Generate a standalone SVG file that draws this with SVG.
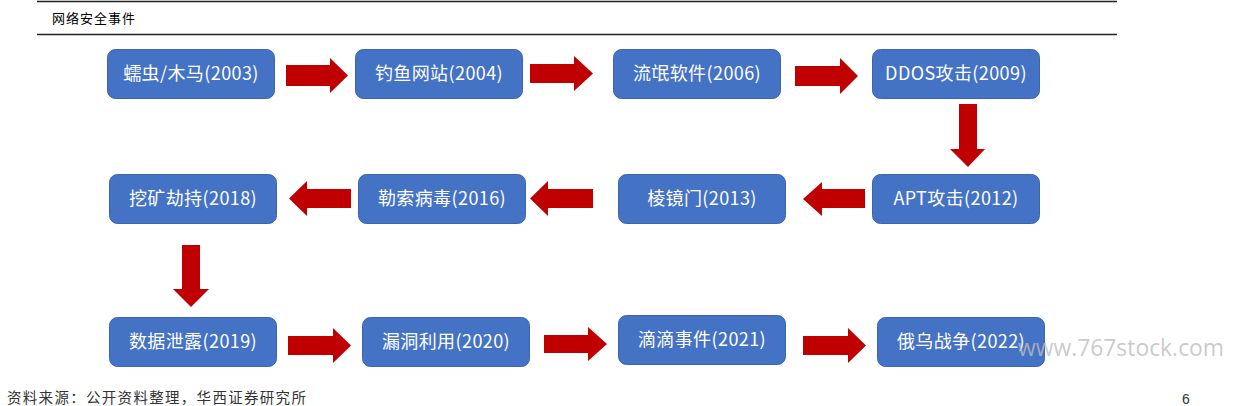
<svg xmlns="http://www.w3.org/2000/svg" width="1235" height="406" viewBox="0 0 1235 406">
<style>
.node rect{fill:#4472C4;stroke:#3B64AD;stroke-width:1}
.node text{font-family:"Noto Sans CJK SC","Noto Sans",sans-serif;font-size:18px;letter-spacing:0.4px;fill:#FFFFFF;text-anchor:middle}
.arrow{fill:#C00000}
.hdr{font-family:"Noto Sans CJK SC",sans-serif;font-size:13px;fill:#000}
.foot{font-family:"Noto Sans CJK SC",sans-serif;font-size:14.5px;fill:#333}
</style>
<rect width="1235" height="406" fill="#FFFFFF"/>
<line x1="37" y1="1.5" x2="1117" y2="1.5" stroke="#222" stroke-width="1.5"/>
<line x1="37" y1="34.5" x2="1117" y2="34.5" stroke="#222" stroke-width="1.5"/>
<text class="hdr" x="52" y="23" letter-spacing="1">网络安全事件</text>

<g id="connectors">
<path class="arrow" d="M286,65 H330 V58 L348,75.5 L330,93 V86 H286 Z"/>
<path class="arrow" d="M530,64 H574 V56 L593,73.5 L574,91 V83 H530 Z"/>
<path class="arrow" d="M795,66 H840 V58 L858,76 L840,94 V86 H795 Z"/>
<path class="arrow" d="M959,104 H977 V149 H985 L968,167 L950,149 H959 Z"/>
<path class="arrow" d="M865,189 H822 V182 L803,199 L822,216 V208 H865 Z"/>
<path class="arrow" d="M593,189 H548 V181 L530,198.5 L548,216 V208 H593 Z"/>
<path class="arrow" d="M351,189 H307 V181 L289,198.5 L307,216 V208 H351 Z"/>
<path class="arrow" d="M182,245 H200 V289 H209 L191,307 L173,289 H182 Z"/>
<path class="arrow" d="M288,336 H333 V328 L351,345.5 L333,363 V355 H288 Z"/>
<path class="arrow" d="M544,335 H588 V327 L607,344 L588,361 V353 H544 Z"/>
<path class="arrow" d="M803,336 H848 V328 L866,345.5 L848,363 V355 H803 Z"/>
</g>

<g id="n2003" class="node"><rect x="107.5" y="49.5" width="167" height="49" rx="8"/><text x="191" y="80">蠕虫/木马(2003)</text></g>
<g id="n2004" class="node"><rect x="355.5" y="49.5" width="167" height="49" rx="8"/><text x="439" y="80">钓鱼网站(2004)</text></g>
<g id="n2006" class="node"><rect x="613.5" y="49.5" width="167" height="49" rx="8"/><text x="697" y="80">流氓软件(2006)</text></g>
<g id="n2009" class="node"><rect x="872.5" y="49.5" width="167" height="49" rx="8"/><text x="956" y="80">DDOS攻击(2009)</text></g>

<g id="n2012" class="node"><rect x="872.5" y="174.5" width="167" height="49" rx="8"/><text x="956" y="205">APT攻击(2012)</text></g>
<g id="n2013" class="node"><rect x="618.5" y="174.5" width="167" height="49" rx="8"/><text x="702" y="205">棱镜门(2013)</text></g>
<g id="n2016" class="node"><rect x="358.5" y="174.5" width="167" height="49" rx="8"/><text x="442" y="205">勒索病毒(2016)</text></g>
<g id="n2018" class="node"><rect x="109.5" y="174.5" width="167" height="49" rx="8"/><text x="193" y="205">挖矿劫持(2018)</text></g>

<g id="n2019" class="node"><rect x="109.5" y="317.5" width="167" height="49" rx="8"/><text x="193" y="348">数据泄露(2019)</text></g>
<g id="n2020" class="node"><rect x="362.5" y="317.5" width="167" height="49" rx="8"/><text x="446" y="348">漏洞利用(2020)</text></g>
<g id="n2021" class="node"><rect x="618.5" y="315.5" width="167" height="49" rx="8"/><text x="702" y="346">滴滴事件(2021)</text></g>
<g id="n2022" class="node"><rect x="877.5" y="317.5" width="167" height="49" rx="8"/><text x="961" y="348">俄乌战争(2022)</text></g>

<text x="1018" y="356" font-family="'Open Sans','Noto Sans',sans-serif" font-size="24" fill="#BDBDBD" fill-opacity="0.8" textLength="206" lengthAdjust="spacingAndGlyphs">www.767stock.com</text>
<text class="foot" x="7" y="403" letter-spacing="1.3">资料来源：公开资料整理，华西证券研究所</text>
<text x="1182" y="404" font-family="'Liberation Sans',sans-serif" font-size="14" fill="#333">6</text>
</svg>
